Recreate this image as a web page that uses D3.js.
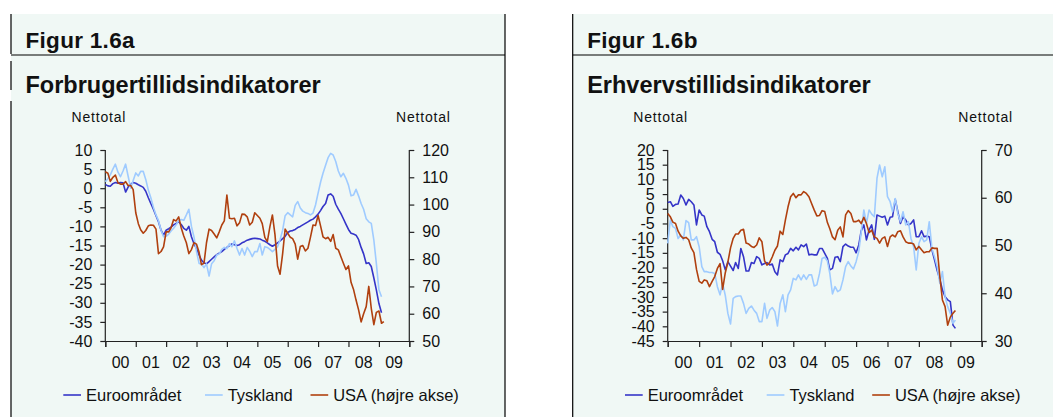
<!DOCTYPE html>
<html>
<head>
<meta charset="utf-8">
<script src="https://cdn.jsdelivr.net/npm/d3@7"></script>
<style>
  body { margin: 0; background: #fff; }
  svg text { font-family: "Liberation Sans", Arial, sans-serif; fill: #111; }
</style>
</head>
<body>
<div id="chart"></div>
<script>
// monthly values, first point = januar 2000
let yearLabels = ['00', '01', '02', '03', '04', '05', '06', '07', '08', '09'];
let seriesNames = ['Euroområdet', 'Tyskland', 'USA (højre akse)'];

// Figur 1.6a - forbrugertillid
let forbrugEuro = [1.0, 0.6, 0.5, 1.2, 1.5, 1.3, 1.5, 1.4, -1.0, 0.3, 1.0, 1.5,
  1.3, 0.9, 0.6, 0.2, -0.8, -2.5, -4, -5.5, -7.2, -8.8, -11, -12.3,
  -11, -10.6, -10.2, -9.6, -9.2, -8.8, -9.5, -10.5, -11, -10, -12.7, -14.5,
  -15.8, -17.5, -18.8, -19.6, -19.8, -19.2, -18.6, -18, -17.4, -17, -16.6, -16,
  -15.5, -15, -14.6, -14.8, -15, -14.8, -14.3, -14, -13.6, -13.4, -13.2, -13.1,
  -13.2, -13.3, -13.6, -13.9, -14.3, -14.8, -15.2, -14.8, -14.3, -13.8, -13.2, -12.6,
  -11.6, -11.2, -11.1, -10.8, -10.3, -10, -9.6, -9.2, -8.8, -8.4, -8.1, -7.5,
  -6.8, -5.8, -4.8, -4, -1.8, -1.5, -2.1, -4.2, -5.5, -6.6, -8, -9.4,
  -10.8, -11.8, -12, -12.3, -13.4, -15.5, -17.2, -19.7, -19.5, -20.5, -23.5, -26.6,
  -30.2, -32.6];
let forbrugTysk = [1.7, 2.5, 3.5, 5, 6.3, 4.2, 3, 4.5, 6.3, 3.2, 0, 2,
  4, 3.2, 4.4, 4.4, 2.3, -0.5, -2.5, -5, -7, -8.5, -11, -12.7,
  -12.6, -12, -11.2, -10.5, -9.6, -8.4, -8.2, -8.4, -7, -5.5, -10, -12.7,
  -16.6, -19.7, -19.8, -20.8, -19.8, -23, -19.8, -19, -17.5, -17.2, -16, -15.5,
  -15.8, -14.5, -15.3, -13.8, -15.7, -17.5, -15.8, -17.5, -15.5, -16.5, -17.9, -16.6,
  -16.6, -14.5, -17.5, -15.3, -15.5, -16, -16.6, -16, -15.3, -13.5, -11, -7.2,
  -6.4, -7, -7.5, -4.5, -3.5, -5.2, -6, -6.4, -6.6, -7, -6.5, -4.4,
  -1.3, 1.7, 3.9, 6, 8, 9.1, 8.7, 7, 4.5, 3, 3.9, 2.6,
  0.8, -2, -1.8, -0.3, -2, -4, -5.5, -8, -8.8, -9.2, -13.6, -19.7,
  -26.6, -28.4];
let forbrugUSA = [112, 111.5, 108.5, 110, 110.8, 108, 107.5, 107.5, 108.4, 107, 107, 105.5,
  97, 93, 90.8, 89.5, 90.5, 92.2, 92.5, 92.4, 91, 82, 82.8, 84.5,
  90, 90, 91.5, 94.5, 94, 95.5, 91.5, 88.5, 86, 82, 83.5, 86,
  85.5, 82.5, 78, 78.5, 86, 91, 90.5, 89.2, 87.8, 90, 92.5, 94,
  103.5, 95, 94.8, 95, 92.2, 93.3, 96.5, 96.4, 95.5, 92.5, 93.5, 97,
  96, 95, 93, 88, 86.4, 91.9, 96.2, 89, 77.5, 74.5, 82, 91,
  89.5, 88, 87.5, 85.5, 80, 84.6, 85, 83, 84, 88, 92.5, 92.3,
  96, 92, 88.2, 87.5, 88, 86.5, 89, 84, 83.4, 81, 78.5, 76.2,
  77.5, 71.5, 69, 65, 61.5, 57, 60, 62.6, 70, 62, 56, 60.5,
  61, 56.5, 57.1];

// Figur 1.6b - erhvervstillid
let erhvervEuro = [2.1, 2.4, 0.8, 1.5, 1.6, 4.7, 3.5, 1.3, 3.2, 2.4, 1.3, -5.5,
  -0.4, -2.1, -2.5, -6.1, -7.8, -10.4, -11.2, -14.8, -15.5, -17.7, -20.8, -18,
  -19.5, -21, -18.3, -20.3, -13.5, -16.3, -21.2, -21.2, -18.3, -18.6, -16.3, -16.9,
  -19.1, -18.6, -18.3, -19.1, -18.8, -21.4, -22.5, -17.4, -18, -15.7, -15.2, -13.5,
  -14.3, -13.1, -14, -12.3, -12.9, -12, -15.7, -15.5, -15.7, -15.7, -13.5, -13.5,
  -15.2, -16.9, -20.8, -20.3, -16.5, -16.3, -18, -12.9, -12, -12.7, -13.1, -13.1,
  -15, -12.3, -7.5, -5.5, -10.6, -7.2, -5.5, -10.4, -2.1, -2.5, -2.9, -2.5,
  -5.5, -2.9, -2.7, 3.2, -1, -5, -2.7, -3.8, -5.5, -5, -3.8, -9.5,
  -9.5, -7.5, -9.5, -9.3, -9.5, -14, -17.4, -21, -24, -27.6, -29.9, -31,
  -31.6, -39.6, -40.7];
let erhvervTysk = [-11.8, -3.8, -6.1, -6.7, -10.1, -8.9, -10.6, -4.0, -4.7, -10.6, -10.6, -9.5,
  -12.9, -19.7, -21.4, -21.4, -21.7, -21.7, -22, -26.5, -29.3, -25.4, -29.5, -35.6,
  -39.2, -30.5, -29.9, -29.7, -29.7, -32.2, -35.6, -33.9, -33.1, -34.5, -35.6, -38.4,
  -38.4, -32.2, -37.3, -34.5, -33.6, -35, -39.9, -32.2, -29.3, -35, -29.3, -27.6,
  -23.7, -24.2, -22.5, -24.2, -22.5, -24, -22.5, -22.5, -26.3, -25.9, -22, -16.9,
  -16.5, -17.8, -22, -29, -26.5, -28.2, -27.6, -24.2, -19.7, -18, -19.5, -20.5,
  -18, -14.5, -8, -0.4, -5, -0.4, -1.8, -2.7, 10.4, 14.9, 10.9, 14.3,
  4.1, 2.4, -1, 3.5, -1.6, -4.4, -1, -5.5, -4.4, -10.1, -12.9, -20.8,
  -11.8, -9.5, -11.2, -10.6, -4.4, -13.5, -16.3, -19.7, -25.4, -21.4, -29.9, -33.3,
  -35.6, -39, -37.9];
let erhvervUSA = [56.7, 56, 54.9, 54.6, 53, 52, 51.5, 51.7, 51.2, 49.5, 48.5, 45,
  42.5, 42.1, 42.8, 42.6, 41.4, 42.5, 43.5, 45.2, 46.2, 40.8, 44.3, 46.5,
  49.5, 51.5, 52.4, 52.4, 53.2, 53.4, 50.5, 50.3, 49.8, 49.6, 50.1, 51.6,
  50.8, 46.8, 45.9, 46.4, 47.6, 49, 49.9, 53, 52.3, 55.3, 58.1, 60.2,
  60.9, 60, 60.6, 60.6, 61.3, 60.9, 60.2, 58.8, 57.4, 56.2, 56.3, 57.3,
  57.1, 54.8, 53.5, 51.8, 51.2, 53.2, 53.9, 51.8, 56.4, 57.3, 56.7, 55,
  55, 55.3, 54.6, 55.9, 54.6, 52.7, 53.2, 51.8, 51.5, 50.5, 51.5, 51.8,
  49.8, 51.8, 52.2, 51.8, 52.9, 53.1, 51.8, 50.8, 50.5, 50.5, 50.3, 49.1,
  49.8, 49.1, 48.5, 48.7, 48.7, 49.5, 49.4, 49.4, 43.5, 38.6, 37.2, 33.3,
  35, 35.8, 36.4];

let forbrugTicksL = d3.range(-40, 11, 5);
let forbrugTicksR = d3.range(50, 121, 10);
let erhvervTicksL = d3.range(-45, 21, 5);
let erhvervTicksR = d3.range(30, 71, 10);

let colors = ['#3535c8', '#9fcbff', '#b0400f'];

let width = 1053;
let height = 417;

let svg = d3.select('#chart').append('svg')
  .attr('width', width).attr('height', height);

svg.append('rect').attr('width', width).attr('height', height).attr('fill', '#fff');

/// plain hyphen as minus sign, like the original
let plainNumber = function(d) { return String(d); };

/// draws one of the two panels
function drawPanel(cfg) {
  let g = svg.append('g');

  g.append('rect')
    .attr('x', cfg.x0).attr('y', 14)
    .attr('width', cfg.x1 - cfg.x0).attr('height', height - 14)
    .attr('fill', '#f0f8f5');

  // borders
  cfg.borderSegs.forEach(function(s) {
    g.append('line').attr('x1', cfg.x0).attr('x2', cfg.x0)
      .attr('y1', s[0]).attr('y2', s[1])
      .attr('stroke', '#000').attr('stroke-width', 1.2);
  });
  if (cfg.rightBorder) {
    g.append('line').attr('x1', cfg.x1).attr('x2', cfg.x1)
      .attr('y1', 14).attr('y2', height)
      .attr('stroke', '#000').attr('stroke-width', 1.2);
  }
  g.append('line').attr('x1', cfg.x0).attr('x2', cfg.x1)
    .attr('y1', 55).attr('y2', 55)
    .attr('stroke', '#000').attr('stroke-width', 1.2);

  g.append('text').attr('x', cfg.x0 + 14.5).attr('y', 47.5)
    .attr('font-size', 22.5).attr('font-weight', 'bold').attr('letter-spacing', 0.3)
    .text(cfg.figur);
  g.append('text').attr('x', cfg.x0 + 14.5).attr('y', 92.5)
    .attr('font-size', 23.5).attr('font-weight', 'bold')
    .text(cfg.title);

  g.append('text').attr('x', cfg.nettotalL).attr('y', 122)
    .attr('font-size', 14).attr('letter-spacing', 0.8).text('Nettotal');
  g.append('text').attr('x', cfg.nettotalR).attr('y', 122)
    .attr('font-size', 14).attr('letter-spacing', 0.8).text('Nettotal');

  let p = cfg.plot;
  let x = d3.scaleTime()
    .domain([new Date(2000, 0, 1), new Date(2010, 0, 1)])
    .range([p.l, p.r]);
  let yL = d3.scaleLinear().domain(cfg.domainL).range([p.b, p.t]);
  let yR = d3.scaleLinear().domain(cfg.domainR).range([p.b, p.t]);

  // axes
  let axisL = g.append('g').attr('transform', 'translate(' + p.l + ',0)')
    .call(d3.axisLeft(yL).tickValues(cfg.ticksL).tickSize(5).tickPadding(8).tickFormat(plainNumber));
  let axisR = g.append('g').attr('transform', 'translate(' + p.r + ',0)')
    .call(d3.axisRight(yR).tickValues(cfg.ticksR).tickSize(5).tickPadding(8).tickFormat(plainNumber));
  let years = d3.range(2000, 2011).map(function(yr) { return new Date(yr, 0, 1); });
  let axisX = g.append('g').attr('transform', 'translate(0,' + p.b + ')')
    .call(d3.axisBottom(x).tickValues(years).tickSize(6).tickFormat(''));

  [axisL, axisR, axisX].forEach(function(a) {
    a.select('.domain').attr('stroke', '#222').attr('stroke-width', 1.2);
    a.selectAll('.tick line').attr('stroke', '#222').attr('stroke-width', 1.2);
    a.selectAll('.tick text').attr('font-size', 16).attr('fill', '#111')
      .attr('font-family', '"Liberation Sans", Arial, sans-serif');
  });
  axisL.select('.domain').attr('d', 'M0,' + p.t + 'V' + p.b);
  axisR.select('.domain').attr('d', 'M0,' + p.t + 'V' + p.b);

  g.selectAll('.yearlabel')
    .data(yearLabels)
    .enter().append('text')
    .attr('class', 'yearlabel')
    .attr('x', function(d, i) { return (x(new Date(2000 + i, 0, 1)) + x(new Date(2001 + i, 0, 1))) / 2; })
    .attr('y', 368)
    .attr('text-anchor', 'middle')
    .attr('font-size', 16)
    .text(function(d) { return d; });

  // lines
  let series = [
    { values: cfg.euro, y: yL, color: colors[0] },
    { values: cfg.tysk, y: yL, color: colors[1] },
    { values: cfg.usa, y: yR, color: colors[2] }
  ];
  series.forEach(function(s) {
    let line = d3.line()
      .x(function(d, i) { return x(new Date(2000, i, 1)); })
      .y(function(d) { return s.y(d); });
    g.append('path').datum(s.values)
      .attr('d', line)
      .attr('fill', 'none')
      .attr('stroke', s.color)
      .attr('stroke-width', 1.6)
      .attr('stroke-linejoin', 'round');
  });

  // legend
  let offsets = [52.3, 194, 299.5];
  seriesNames.forEach(function(name, i) {
    let lx = cfg.x0 + offsets[i];
    g.append('line').attr('x1', lx).attr('x2', lx + 17.7)
      .attr('y1', 395).attr('y2', 395)
      .attr('stroke', colors[i]).attr('stroke-width', 1.6);
    g.append('text').attr('x', lx + 22.7).attr('y', 400.8)
      .attr('font-size', 16.5).text(name);
  });
}

drawPanel({
  x0: 11, x1: 505, rightBorder: true,
  borderSegs: [[14, 54], [61, 90], [101, height]],
  figur: 'Figur 1.6a', title: 'Forbrugertillidsindikatorer',
  nettotalL: 71.6, nettotalR: 396,
  plot: { l: 105.3, r: 409.3, t: 150, b: 341 },
  domainL: [-40, 10], domainR: [50, 120],
  ticksL: forbrugTicksL, ticksR: forbrugTicksR,
  euro: forbrugEuro, tysk: forbrugTysk, usa: forbrugUSA
});

drawPanel({
  x0: 572.7, x1: width, rightBorder: false,
  borderSegs: [[14, height]],
  figur: 'Figur 1.6b', title: 'Erhvervstillidsindikatorer',
  nettotalL: 633.3, nettotalR: 958.3,
  plot: { l: 667.7, r: 981.7, t: 150, b: 341 },
  domainL: [-45, 20], domainR: [30, 70],
  ticksL: erhvervTicksL, ticksR: erhvervTicksR,
  euro: erhvervEuro, tysk: erhvervTysk, usa: erhvervUSA
});
</script>
</body>
</html>
